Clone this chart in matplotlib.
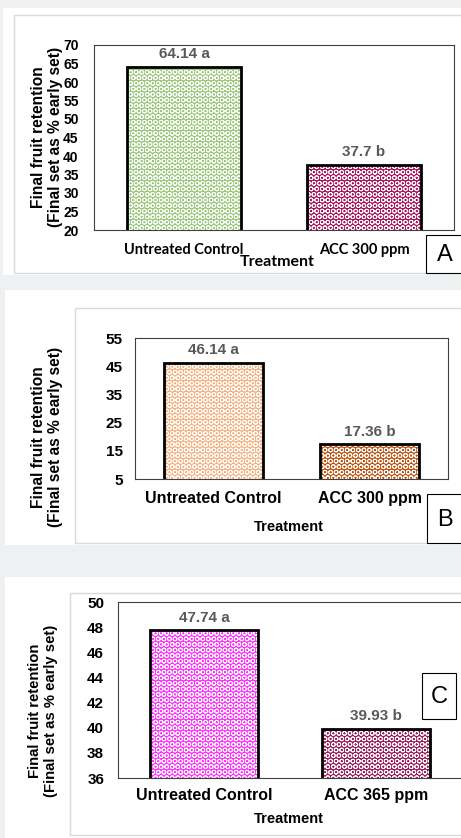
import matplotlib
matplotlib.use("Agg")
import matplotlib.pyplot as plt
from matplotlib.patches import Rectangle

W, H = 461, 838

# data
cats_a = ['Untreated Control', 'ACC 300 ppm']
vals_a = [64.14, 37.7]
sig_a = ['a', 'b']
cats_b = ['Untreated Control', 'ACC 300 ppm']
vals_b = [46.14, 17.36]
sig_b = ['a', 'b']
cats_c = ['Untreated Control', 'ACC 365 ppm']
vals_c = [47.74, 39.93]
sig_c = ['a', 'b']

ylabel = 'Final fruit retention\n(Final set as % early set)'

plt.rcParams['font.family'] = ['Liberation Sans', 'DejaVu Sans']
plt.rcParams['hatch.linewidth'] = 0.65
plt.rcParams['hatch.color'] = 'white'

fig = plt.figure(figsize=(W/100, H/100), dpi=100)
fig.patch.set_facecolor('#eef0f2')


def rect(x0, y0, x1, y1, fc='white', ec='none', lw=1.0, z=-2):
    fig.patches.append(Rectangle((x0/W, 1-y1/H), (x1-x0)/W, (y1-y0)/H,
                                 transform=fig.transFigure, facecolor=fc,
                                 edgecolor=ec, linewidth=lw, zorder=z))


def px_axes(x0, y0, x1, y1):
    return fig.add_axes([x0/W, 1-y1/H, (x1-x0)/W, (y1-y0)/H])


def ftext(x, y, s, **kw):
    fig.text(x/W, 1-y/H, s, **kw)


def panel(box, cats, vals, sig, colors, ylim, yticks, ytsize, ypad, tickfont,
          tsize, lab_y, trt_xy, trt_font, trt_size, ylab_xy, ylab_size,
          letter, lbox):
    ax = px_axes(*box)
    x = range(len(cats))
    ax.bar(x, vals, width=0.63, color=colors, linewidth=0, zorder=2)
    ax.bar(x, vals, width=0.63, facecolor='none', edgecolor='white',
           linewidth=0, hatch='OOO', zorder=2.5)
    ax.bar(x, vals, width=0.63, fill=False, edgecolor='black', linewidth=2.0,
           zorder=3)
    for i, v in enumerate(vals):
        ax.annotate(f'{v} {sig[i]}', (i, v), xytext=(0, 4),
                    textcoords='offset points', ha='center', va='bottom',
                    fontsize=11, fontweight='bold', color='#595959')
    ax.set_xlim(-0.5, 1.5)
    ax.set_ylim(*ylim)
    ax.set_yticks(yticks)
    ax.tick_params(axis='y', length=0, pad=ypad, labelsize=ytsize)
    for t in ax.get_yticklabels():
        t.set_fontweight('bold')
    ax.set_xticks([])
    for sp in ax.spines.values():
        sp.set_color('#404040')
        sp.set_linewidth(0.8)
    ax.patch.set_alpha(0)
    # category labels below axis
    for i, c in enumerate(cats):
        xd = ax.transData.transform((i, 0))[0]
        fig.text(xd/fig.bbox.width, 1-lab_y/H, c, ha='center', va='center',
                 fontsize=tsize, fontweight='bold', family=tickfont)
    ftext(trt_xy[0], trt_xy[1], 'Treatment', ha='center', va='center',
          fontsize=trt_size, fontweight='bold', family=trt_font)
    ftext(ylab_xy[0], ylab_xy[1], ylabel, ha='center', va='center',
          rotation=90, fontsize=ylab_size, fontweight='bold', linespacing=1.15)
    rect(*lbox, fc='white', ec='black', lw=0.8, z=5)
    ftext((lbox[0]+lbox[2])/2, (lbox[1]+lbox[3])/2+1, letter, ha='center',
          va='center', fontsize=17, zorder=6)


# panel A
rect(3, 8, 461, 275)
rect(14, 15, 470, 273, ec='#d9d9d9')
panel((94, 45, 454, 230), cats_a, vals_a, sig_a, ['#98c779', '#a8105a'],
      (20, 70), range(20, 71, 5), 10, 11, ['Lato', 'DejaVu Sans'], 10.5, 250,
      (277, 262), ['Lato', 'DejaVu Sans'], 11.5, (47, 137), 11.2, 'A',
      (426, 235, 463, 273))

# panel B
rect(5, 290, 461, 545)
rect(75, 308, 470, 543, ec='#d9d9d9')
panel((135, 338, 448, 479), cats_b, vals_b, sig_b, ['#f4b07e', '#bd520c'],
      (5, 55), range(5, 56, 10), 11, 9, ['Liberation Sans', 'DejaVu Sans'],
      11.5, 498, (289, 527), ['Liberation Sans', 'DejaVu Sans'], 10.5,
      (47, 437), 11.2, 'B', (427, 494, 463, 543))

# panel C
rect(5, 577, 461, 838)
rect(70, 593, 470, 835, ec='#d9d9d9')
panel((118, 602, 462, 778), cats_c, vals_c, sig_c, ['#ff2eff', '#981858'],
      (36, 50), range(36, 51, 2), 11, 10, ['Liberation Sans', 'DejaVu Sans'],
      11.5, 795, (289, 819), ['Liberation Sans', 'DejaVu Sans'], 10.5,
      (43, 711), 10.7, 'C', (422, 673, 456, 719))

fig.savefig('out.png', dpi=100, facecolor=fig.get_facecolor())
